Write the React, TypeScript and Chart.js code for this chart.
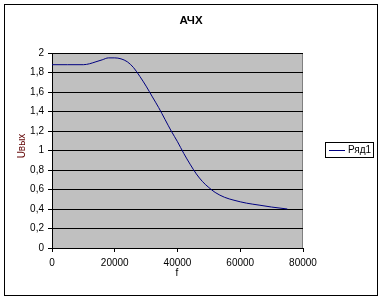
import React, { useEffect, useRef } from "react";
import { Chart, registerables } from "chart.js";

Chart.register(...registerables);

const chartTitle = "АЧХ";
const xTitle = "f";
const yTitle = "Uвых";
const seriesName = "Ряд1";

const freq = [
  0, 5000, 10000, 12000, 14000, 16000, 18000, 20000, 22000, 24000, 26000, 28000,
  30000, 32000, 34000, 36000, 38000, 40000, 42000, 44000, 46000, 48000, 50000,
  52000, 55000, 58000, 62000, 66000, 70000, 75000,
];
const uout = [
  1.88, 1.88, 1.88, 1.89, 1.91, 1.93, 1.95, 1.95, 1.94, 1.91, 1.85, 1.76,
  1.66, 1.55, 1.44, 1.32, 1.2, 1.09, 0.97, 0.86, 0.76, 0.68, 0.62,
  0.57, 0.52, 0.49, 0.46, 0.44, 0.42, 0.4,
];

const FONT = "'Liberation Sans', Arial, sans-serif";

const decor = {
  id: "decor",
  beforeDraw(chart: any) {
    const { ctx, chartArea: a } = chart;
    ctx.save();
    ctx.fillStyle = "#ffffff";
    ctx.fillRect(0, 0, chart.width, chart.height);
    ctx.fillStyle = "#c0c0c0";
    ctx.fillRect(a.left, a.top, a.right - a.left, a.bottom - a.top);
    ctx.fillStyle = "#808080";
    ctx.fillRect(a.left, a.top, a.right - a.left, 1);
    ctx.fillRect(a.right - 1, a.top, 1, a.bottom - a.top);
    ctx.restore();
  },
  afterDraw(chart: any) {
    const { ctx } = chart;
    ctx.save();
    // outer border
    ctx.fillStyle = "#000000";
    ctx.fillRect(4, 4, 374, 1);
    ctx.fillRect(4, 295, 374, 1);
    ctx.fillRect(4, 4, 1, 292);
    ctx.fillRect(377, 4, 1, 292);
    // title
    ctx.font = `bold 11.5px ${FONT}`;
    ctx.textAlign = "center";
    ctx.textBaseline = "middle";
    ctx.fillText(chartTitle, 191, 21);
    // x title
    ctx.font = `10px ${FONT}`;
    ctx.fillText(xTitle, 177, 273);
    // y title
    ctx.save();
    ctx.translate(22, 146);
    ctx.rotate(-Math.PI / 2);
    ctx.fillStyle = "#600000";
    ctx.fillText(yTitle, 0, 0);
    ctx.restore();
    // legend
    ctx.fillStyle = "#ffffff";
    ctx.fillRect(325, 142, 48, 15);
    ctx.fillStyle = "#000000";
    ctx.fillRect(325, 142, 49, 1);
    ctx.fillRect(325, 157, 49, 1);
    ctx.fillRect(325, 142, 1, 16);
    ctx.fillRect(373, 142, 1, 16);
    ctx.fillStyle = "#000080";
    ctx.fillRect(329, 150, 16, 1);
    ctx.fillStyle = "#000000";
    ctx.textAlign = "left";
    ctx.font = `10px ${FONT}`;
    ctx.fillText(seriesName, 348, 150.5);
    ctx.restore();
  },
};

export default function App() {
  const ref = useRef<HTMLCanvasElement>(null);
  useEffect(() => {
    document.body.style.margin = "0";
    if (!ref.current) return;
    const chart = new Chart(ref.current, {
      type: "scatter",
      data: {
        datasets: [
          {
            label: seriesName,
            data: freq.map((f, i) => ({ x: f, y: uout[i] })),
            showLine: true,
            borderColor: "#000080",
            borderWidth: 1,
            pointRadius: 0,
            cubicInterpolationMode: "monotone",
          },
        ],
      },
      options: {
        animation: false,
        responsive: false,
        layout: { padding: { left: 0, top: 53, right: 79, bottom: 0 } },
        plugins: { legend: { display: false }, title: { display: false }, tooltip: { enabled: false } },
        scales: {
          x: {
            type: "linear",
            min: 0,
            max: 80000,
            afterFit: (s: any) => {
              s.height = 52;
            },
            ticks: {
              stepSize: 20000,
              color: "#000000",
              font: { family: FONT, size: 10 },
              padding: 5,
              maxRotation: 0,
              callback: (v: any) => String(v),
            },
            grid: {
              drawOnChartArea: false,
              drawTicks: true,
              tickLength: 4,
              color: "#000000",
            },
            border: { color: "#000000", width: 1 },
          },
          y: {
            type: "linear",
            min: 0,
            max: 2,
            afterFit: (s: any) => {
              s.width = 52;
            },
            ticks: {
              stepSize: 0.2,
              color: "#000000",
              font: { family: FONT, size: 10 },
              padding: 4,
              callback: (v: any) => String(Math.round(Number(v) * 10) / 10).replace(".", ","),
            },
            grid: {
              drawOnChartArea: true,
              drawTicks: true,
              tickLength: 4,
              color: "#000000",
            },
            border: { color: "#000000", width: 1 },
          },
        },
      },
      plugins: [decor],
    });
    return () => chart.destroy();
  }, []);
  return (
    <div style={{ width: 382, height: 300 }}>
      <canvas ref={ref} width={382} height={300} style={{ display: "block" }} />
    </div>
  );
}
